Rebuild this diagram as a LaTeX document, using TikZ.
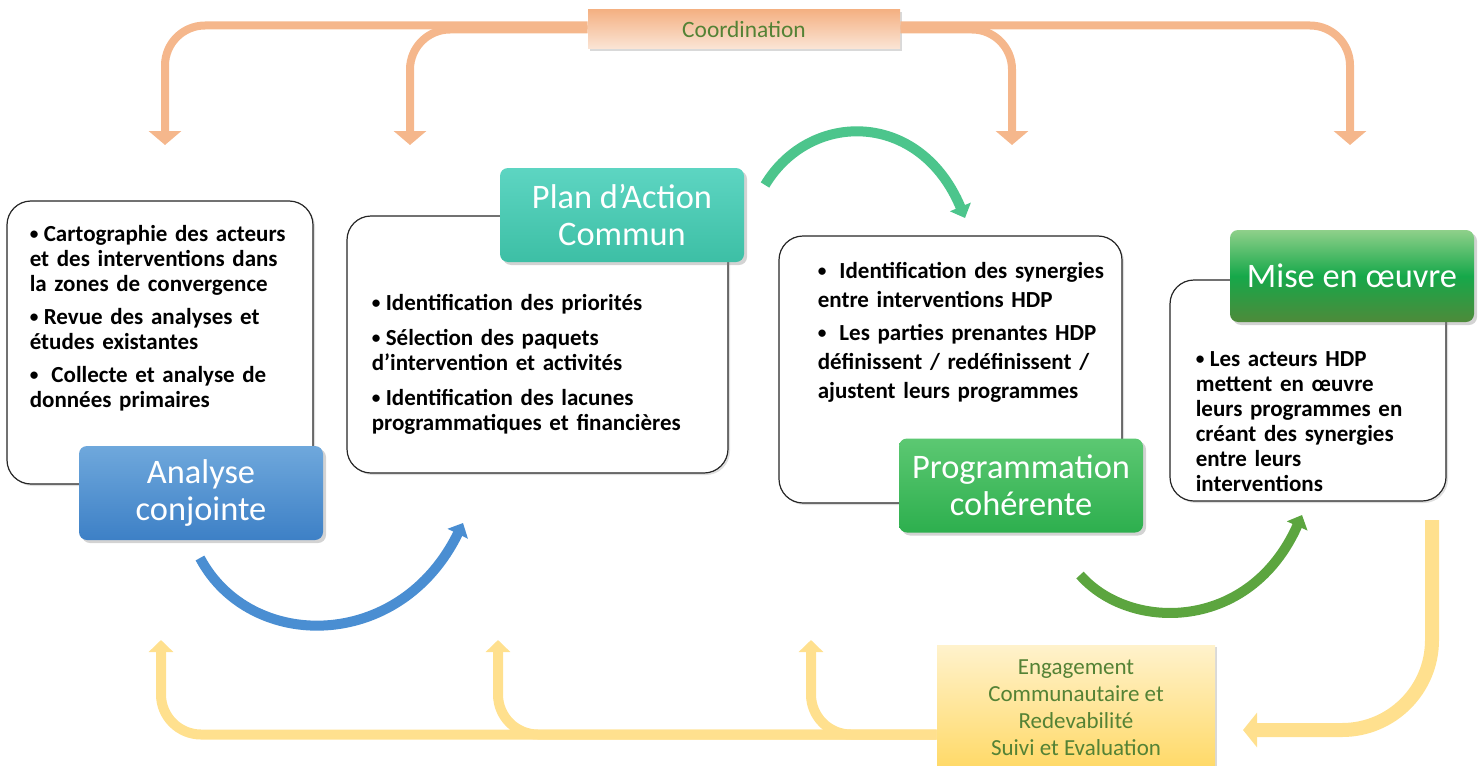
\documentclass[tikz,border=0pt]{standalone}
\usepackage{fontspec}
\setmainfont{Carlito}
\usepackage{tikz}
\usetikzlibrary{arrows.meta,positioning,shadows}
\definecolor{peach}{HTML}{F5B78C}
\definecolor{peachtop}{HTML}{F4B183}
\definecolor{peachbot}{HTML}{FBE5D6}
\definecolor{sand}{HTML}{FFE08E}
\definecolor{sandtop}{HTML}{FFF2CC}
\definecolor{sandbot}{HTML}{FFD966}
\definecolor{olive}{HTML}{548235}
\definecolor{skytop}{HTML}{6FA8DC}
\definecolor{skybot}{HTML}{3D80C6}
\definecolor{tealtop}{HTML}{5DD5C2}
\definecolor{tealbot}{HTML}{3DBFA5}
\definecolor{leaftop}{HTML}{5CC872}
\definecolor{leafbot}{HTML}{2DAF4E}
\definecolor{mosstop}{HTML}{8FD08A}
\definecolor{mossmid}{HTML}{16A84A}
\definecolor{mossbot}{HTML}{4E8A3A}
\definecolor{arcteal}{HTML}{4CC58C}
\definecolor{arcblue}{HTML}{4A8ED2}
\definecolor{arcgreen}{HTML}{5CA53F}
\newcommand{\puce}[2][4pt]{\par\hangindent=7pt\hangafter=1\noindent\makebox[7pt][l]{\raisebox{0.1em}{\scalebox{0.75}{\textbullet}}}#2\par\vspace{#1}}
\tikzstyle{card} = [rectangle, rounded corners=12pt, draw=black!85, line width=0.6pt, fill=white, drop shadow={opacity=0.25, shadow xshift=1pt, shadow yshift=-1pt}]
\tikzstyle{tag} = [rectangle, rounded corners=4pt, text=white, align=center, font=\fontsize{17.2}{18.5}\selectfont, minimum width=122pt, minimum height=47pt, drop shadow={opacity=0.35, shadow xshift=1.5pt, shadow yshift=-1.5pt}]
\tikzstyle{bullets} = [anchor=north west, align=left, inner sep=0pt, text width=175pt, font=\bfseries\fontsize{11.5}{12.5}\selectfont]
\tikzstyle{banner} = [rectangle, text=olive, align=center, drop shadow={opacity=0.3, shadow xshift=1pt, shadow yshift=-1pt}]
\tikzstyle{coordarrow} = [draw=peach, line width=4pt, rounded corners=20pt, -{Triangle[width=16pt,length=7pt]}]
\tikzstyle{backarrow} = [draw=sand, line width=5pt, rounded corners=20pt, -{Triangle[width=12pt,length=6pt]}]
\tikzstyle{cyclearc} = [line width=5pt, -{Triangle[width=11pt,length=6pt]}]

\begin{document}
\begin{tikzpicture}[x=0.5pt, y=-0.5pt]
\useasboundingbox (0,0) rectangle (1481,765);

% cards =============================
\node[card, minimum width=153pt, minimum height=141.5pt] (jointcard) at (160,342.5) {};
\node[card, minimum width=190.5pt, minimum height=128.5pt] (plancard) at (537.5,344.5) {};
\node[card, minimum width=171.5pt, minimum height=133.5pt] (progcard) at (950.5,369.5) {};
\node[card, minimum width=138pt, minimum height=110.5pt] (misecard) at (1308,390.5) {};

% bullet texts
\node[bullets, below right=8pt and 11.5pt of jointcard.north west] (jointtext) {%
\puce{Cartographie des acteurs\\et des interventions dans\\la zones de convergence}
\puce{Revue des analyses et\\études existantes}
\puce{\ Collecte et analyse de\\données primaires}};
\node[bullets, below right=35pt and 12.5pt of plancard.north west] (plantext) {%
\puce[5pt]{Identification des priorités}
\puce[5pt]{Sélection des paquets\\d’intervention et activités}
\puce{Identification des lacunes\\programmatiques et financières}};
\node[bullets, below right=7pt and 19.5pt of progcard.north west, font=\bfseries\fontsize{11.5}{14.5}\selectfont] (progtext) {%
\puce[2pt]{\ Identification des synergies\\entre interventions HDP}
\puce{\ Les parties prenantes HDP\\définissent / redéfinissent /\\ajustent leurs programmes}};
\node[bullets, below right=31pt and 13pt of misecard.north west] (misetext) {%
\puce{Les acteurs HDP\\mettent en œuvre\\leurs programmes en\\créant des synergies\\entre leurs\\interventions}};

% step tags
\node[tag, top color=skytop, bottom color=skybot] (joint) at (201,493) {Analyse\\conjointe};
\node[tag, top color=tealtop, bottom color=tealbot] (plan) at (622,215) {Plan d’Action\\Commun};
\node[tag, top color=leaftop, bottom color=leafbot] (prog) at (1021,485.5) {Programmation\\cohérente};
\node[tag, minimum height=46pt, top color=mosstop, bottom color=mossbot, middle color=mossmid] (mise) at (1352,276) {Mise en œuvre};

% banners
\node[banner, top color=peachtop, bottom color=peachbot, minimum width=156pt, minimum height=19.5pt, font=\fontsize{11.7}{13}\selectfont] (coord) at (744,29.5) {Coordination};
\node[banner, top color=sandtop, bottom color=sandbot, minimum width=139pt, minimum height=62.5pt, font=\fontsize{11.5}{13.5}\selectfont] (eng) at (1076,707.5) {Engagement\\Communautaire et\\Redevabilité\\Suivi et Evaluation};

% coordination arrows
\coordinate (toJointA) at (165,145);
\coordinate (toPlanA) at (410,145);
\coordinate (toProgA) at (1012,145);
\coordinate (toMiseA) at (1350,145);
\draw[coordarrow] ([yshift=2pt]coord.west) -| (toJointA);
\draw[coordarrow] (coord.west) -| (toPlanA);
\draw[coordarrow] (coord.east) -| (toProgA);
\draw[coordarrow] ([yshift=2pt]coord.east) -| (toMiseA);

% feedback arrows
\coordinate (fromMise) at (1432,520);
\coordinate (toEng) at (1243,730);
\draw[backarrow, line width=7pt, rounded corners=45pt, -{Triangle[width=17pt,length=7pt]}] (fromMise) |- (toEng);
\coordinate (backJoint) at (161,640);
\coordinate (backPlan) at (498,640);
\coordinate (backProg) at (811,640);
\draw[backarrow] ([yshift=-13.5pt]eng.west) -| (backJoint);
\draw[backarrow] ([yshift=-13.5pt]eng.west) -| (backPlan);
\draw[backarrow] ([yshift=-13.5pt]eng.west) -| (backProg);

% cycle arcs
\coordinate (arcPlanA) at (765,185);
\coordinate (arcPlanB) at (965,218);
\draw[cyclearc, draw=arcteal] (arcPlanA) .. controls (810,110) and (920,110) .. (arcPlanB);
\coordinate (arcJointA) at (200,558);
\coordinate (arcJointB) at (463,523);
\draw[cyclearc, draw=arcblue] (arcJointA) .. controls (250,652) and (400,652) .. (arcJointB);
\coordinate (arcProgA) at (1080,575);
\coordinate (arcProgB) at (1302,515);
\draw[cyclearc, draw=arcgreen] (arcProgA) .. controls (1130,632) and (1250,632) .. (arcProgB);

\end{tikzpicture}
\end{document}
